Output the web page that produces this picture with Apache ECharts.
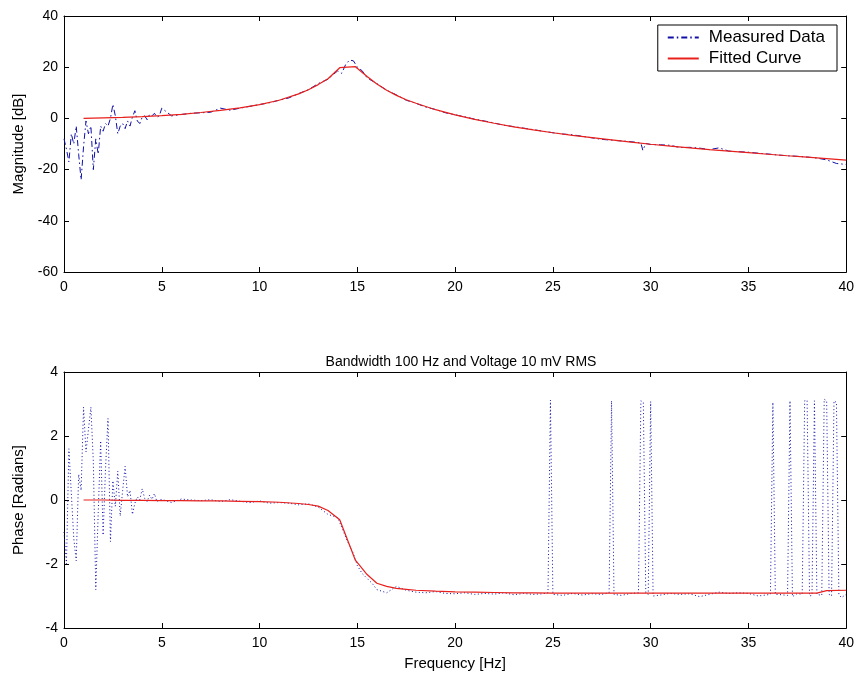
<!DOCTYPE html>
<html>
<head>
<meta charset="utf-8">
<script src="https://cdn.jsdelivr.net/npm/echarts@6/dist/echarts.min.js"></script>
<style>
html, body { margin: 0; padding: 0; background: #fff; }
#chart { width: 857px; height: 677px; }
</style>
</head>
<body>
<div id="chart"></div>
<script>
// x tick labels (Hz)
const freqTicks = [0, 5, 10, 15, 20, 25, 30, 35, 40];

// measured magnitude [Hz, dB]
const magMeasured = [
  [0, -8], [0.125, -12], [0.25, -17], [0.375, -6], [0.5, -10], [0.625, -3], [0.75, -14], [0.875, -24],
  [1.0, -11], [1.125, -1], [1.25, -6], [1.375, -3], [1.5, -20], [1.625, -8], [1.75, -14], [1.875, -3],
  [2.0, -5], [2.125, -2], [2.25, -3], [2.375, 0], [2.5, 5.5], [2.625, 1], [2.75, -6], [2.875, -3],
  [3.0, -2], [3.125, -4], [3.25, -1], [3.375, -3], [3.5, 0.5], [3.625, 3], [3.75, -1], [3.875, -2],
  [4.0, 0.5], [4.125, 1], [4.25, -0.5], [4.375, 1.5], [4.5, 1], [4.625, 2], [4.75, 0.5], [4.875, 1],
  [5.0, 4], [5.5, 1], [6, 1.5], [6.5, 2], [7, 2.2], [7.5, 2.4], [8, 4], [8.5, 3.2], [9, 4], [9.5, 4.7],
  [10, 5.4], [10.5, 6.1], [11, 7.1], [11.5, 8], [12, 9.7], [12.5, 11.2], [13, 13.6], [13.5, 15.3],
  [13.75, 17], [14, 18.6], [14.2, 17.6], [14.4, 21], [14.6, 22.8], [14.8, 22.5], [15, 20], [15.25, 18.6],
  [15.5, 15.8], [16, 13.6], [16.5, 11], [17, 9.2], [17.5, 7.1], [18, 5.9], [18.5, 4.4], [19, 3.5],
  [19.5, 2.2], [20, 1.4], [20.5, 0.6], [21, -0.3], [21.5, -1.0], [22, -1.8], [22.5, -2.7], [23, -3.2],
  [23.5, -3.8], [24, -4.4], [24.5, -5.0], [25, -5.6], [25.5, -6.1], [26, -6.4], [26.5, -7.0], [27, -7.6],
  [27.5, -8.2], [28, -8.5], [28.5, -8.8], [29, -9.1], [29.5, -9.6], [29.6, -12.5], [29.75, -9.8], [30, -10.2],
  [30.5, -10.3], [31, -10.5], [31.5, -11.4], [32, -11.3], [32.5, -11.6], [33, -12.2], [33.5, -11.5], [34, -12.8],
  [34.5, -13], [35, -13.2], [35.5, -13.6], [36, -13.9], [36.5, -14.3], [37, -14.6], [37.5, -14.8], [38, -15.1],
  [38.5, -15.5], [39, -16.2], [39.5, -17.6], [40, -18]
];

// fitted curve, sampled frequencies
const fitFreq = [1, 2, 3, 4, 5, 6, 7, 8, 9, 10, 11, 12, 12.5, 13, 13.5, 14.1, 14.9, 15.5, 16, 16.5, 17, 17.5, 18,
  19, 20, 21, 22, 23, 24, 25, 26, 27, 28, 29, 30, 31, 32, 33, 34, 35, 36, 37, 38, 38.5, 39, 40];
const fitMag = [0.0, 0.2, 0.4, 0.7, 1.1, 1.6, 2.3, 3.1, 4.1, 5.4, 7.1, 9.6, 11.2, 13.2, 15.5, 19.8, 20.2, 16.4, 13.4,
  11.0, 9.0, 7.3, 5.9, 3.4, 1.4, -0.4, -1.9, -3.3, -4.5, -5.6, -6.6, -7.5, -8.4, -9.3, -10.1, -10.8, -11.5,
  -12.2, -12.8, -13.4, -14.0, -14.6, -15.1, -15.4, -15.7, -16.3];
const fitPhase = [0, 0, -0.01, -0.01, -0.02, -0.02, -0.03, -0.03, -0.04, -0.05, -0.07, -0.11, -0.14, -0.19, -0.33,
  -0.62, -1.88, -2.33, -2.6, -2.7, -2.76, -2.79, -2.82, -2.85, -2.87, -2.88, -2.89, -2.9, -2.9, -2.91, -2.91,
  -2.91, -2.91, -2.91, -2.91, -2.91, -2.91, -2.91, -2.91, -2.91, -2.91, -2.91, -2.91, -2.91, -2.83, -2.82];

// measured phase [Hz, rad]
const phaseMeasured = [
  [0, -1.0], [0.125, -2.0], [0.25, 1.6], [0.375, 0.2], [0.5, -1.2], [0.625, -1.9], [0.75, 0.8], [0.875, 0.3],
  [1.0, 2.9], [1.125, 1.5], [1.25, 2.2], [1.375, 2.9], [1.5, 1.2], [1.625, -2.8], [1.75, -0.4], [1.875, 1.85],
  [2.0, -1.1], [2.125, 1.0], [2.25, 2.55], [2.375, -1.3], [2.5, 0.6], [2.625, -0.2], [2.75, 0.9], [2.875, -0.5],
  [3.0, 0.3], [3.125, 1.05], [3.25, 0.1], [3.375, 0.3], [3.5, -0.45], [3.625, -0.1], [3.75, 0.1], [3.875, 0.0],
  [4.0, 0.35], [4.125, 0.05], [4.25, -0.05], [4.375, 0.15], [4.5, 0.02], [4.625, 0.2], [4.75, -0.05], [4.875, 0.0],
  [5.0, 0.02], [5.5, -0.08], [6, 0.03], [6.5, 0.0], [7, -0.02], [7.5, 0.01], [8, -0.05], [8.5, 0.01], [9, -0.04],
  [9.5, -0.08], [10, -0.03], [10.5, -0.1], [11, -0.08], [11.5, -0.1], [12, -0.15], [12.5, -0.12], [13, -0.22],
  [13.5, -0.45], [14, -0.55], [14.5, -1.3], [14.75, -1.6], [15, -2.05], [15.25, -2.3], [15.5, -2.45], [15.75, -2.6],
  [16, -2.8], [16.5, -2.9], [17, -2.7], [17.5, -2.82], [18, -2.88], [18.5, -2.9], [19, -2.86], [19.5, -2.92],
  [20, -2.93], [20.5, -2.9], [21, -2.95], [21.5, -2.92], [22, -2.94], [22.5, -2.9], [23, -2.96], [23.5, -2.92],
  [24, -2.95], [24.5, -2.93], [24.75, -2.9], [24.875, 3.12], [25.0, -2.95], [25.5, -2.98], [26, -2.92],
  [26.5, -2.97], [27, -2.93], [27.5, -2.95], [27.875, -2.9], [28.0, 3.1], [28.125, -2.95], [28.5, -2.98],
  [29, -2.92], [29.375, -2.9], [29.5, 3.1], [29.625, 3.05], [29.75, -2.9], [29.875, -2.95], [30.0, 3.08],
  [30.125, -3.0], [30.5, -2.97], [31, -2.92], [31.5, -2.95], [32, -2.93], [32.5, -3.02], [33, -2.95],
  [33.5, -2.88], [34, -2.92], [34.5, -2.9], [35, -2.92], [35.5, -3.0], [36.125, -2.95], [36.25, 3.05],
  [36.375, -2.95], [36.5, -2.95], [37.0, -2.98], [37.125, 3.1], [37.25, -3.02], [37.5, -2.92], [37.75, -2.95],
  [37.875, 3.1], [38.0, 3.12], [38.125, -3.0], [38.25, -2.98], [38.375, 3.1], [38.5, -2.95], [38.75, -2.98],
  [38.875, 3.15], [39.0, 3.1], [39.125, -2.95], [39.25, -3.0], [39.375, 3.1], [39.5, 3.05], [39.625, -2.95],
  [39.75, -3.05], [40, -2.95]
];

const FONT = 'Liberation Sans, Arial, sans-serif';
const font = { fontFamily: FONT, fontSize: 14, color: '#000' };
const nameFont = { fontFamily: FONT, fontSize: 15, color: '#000' };

function xAx(grid, pos, labels, name) {
  return {
    type: 'value', gridIndex: grid, position: pos, min: 0, max: 40, interval: 5,
    axisLine: { show: true, onZero: false, lineStyle: { color: '#000', width: 1 } },
    axisTick: { show: true, inside: true, length: 5, lineStyle: { color: '#000' } },
    axisLabel: Object.assign({ show: labels, margin: 8 }, font),
    splitLine: { show: false },
    name: name || '', nameLocation: 'middle', nameGap: 28,
    nameTextStyle: nameFont
  };
}
function yAx(grid, pos, min, max, step, labels, name) {
  return {
    type: 'value', gridIndex: grid, position: pos, min: min, max: max, interval: step,
    axisLine: { show: true, onZero: false, lineStyle: { color: '#000', width: 1 } },
    axisTick: { show: true, inside: true, length: 5, lineStyle: { color: '#000' } },
    axisLabel: Object.assign({ show: labels, margin: 6 }, font),
    splitLine: { show: false },
    name: name || '', nameLocation: 'middle', nameGap: 38, nameRotate: 90,
    nameTextStyle: nameFont
  };
}

const chart = echarts.init(document.getElementById('chart'), null, { renderer: 'canvas' });
chart.setOption({
  animation: false,
  backgroundColor: '#fff',
  title: {
    text: 'Bandwidth 100 Hz and Voltage 10 mV RMS',
    left: 456, top: 350, textAlign: 'center',
    textStyle: { fontFamily: FONT, fontSize: 14, fontWeight: 'normal', color: '#000' }
  },
  legend: {
    right: 20, top: 25, orient: 'vertical', itemWidth: 31, itemHeight: 10, itemGap: 4,
    padding: [4, 12, 4, 9], borderColor: '#000', borderWidth: 1, backgroundColor: '#fff',
    itemStyle: { opacity: 0, borderWidth: 0 },
    textStyle: { fontFamily: FONT, fontSize: 17, color: '#000', padding: [0, 0, 0, 5] },
    data: ['Measured Data', 'Fitted Curve']
  },
  grid: [
    { left: 64, top: 16, width: 783, height: 256 },
    { left: 64, top: 372, width: 783, height: 256 }
  ],
  xAxis: [
    xAx(0, 'bottom', true),
    xAx(0, 'top', false),
    xAx(1, 'bottom', true, 'Frequency [Hz]'),
    xAx(1, 'top', false)
  ],
  yAxis: [
    yAx(0, 'left', -60, 40, 20, true, 'Magnitude [dB]'),
    yAx(0, 'right', -60, 40, 20, false),
    yAx(1, 'left', -4, 4, 2, true, 'Phase [Radians]'),
    yAx(1, 'right', -4, 4, 2, false)
  ],
  series: [
    {
      name: 'Measured Data', type: 'line', xAxisIndex: 0, yAxisIndex: 0,
      data: magMeasured, symbol: 'none', showSymbol: false,
      lineStyle: { color: '#1010a8', width: 1, type: [6, 3, 1.5, 3] },
      itemStyle: { color: '#1010a8' }
    },
    {
      name: 'Fitted Curve', type: 'line', xAxisIndex: 0, yAxisIndex: 0,
      data: fitFreq.map((f, i) => [f, fitMag[i]]), symbol: 'none', showSymbol: false,
      lineStyle: { color: '#e8201c', width: 1.2 },
      itemStyle: { color: '#e8201c' }
    },
    {
      name: 'phaseMeasured', type: 'line', xAxisIndex: 2, yAxisIndex: 2,
      data: phaseMeasured, symbol: 'none', showSymbol: false,
      lineStyle: { color: '#1010a8', width: 1, type: [1, 2.5] }
    },
    {
      name: 'phaseFit', type: 'line', xAxisIndex: 2, yAxisIndex: 2,
      data: fitFreq.map((f, i) => [f, fitPhase[i]]), symbol: 'none', showSymbol: false,
      lineStyle: { color: '#e8201c', width: 1.2 }
    }
  ]
});
</script>
</body>
</html>
